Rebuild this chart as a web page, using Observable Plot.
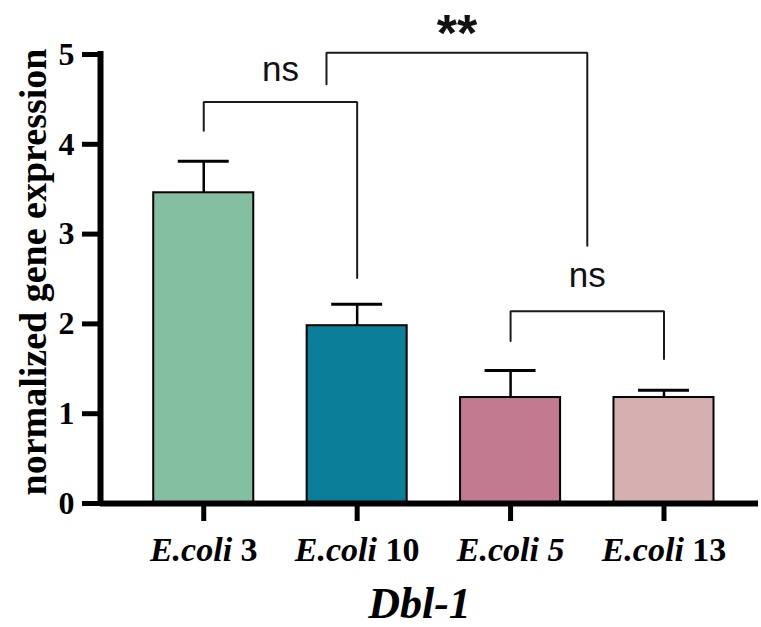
<!DOCTYPE html>
<html><head><meta charset="utf-8">
<script src="https://cdn.jsdelivr.net/npm/d3@7"></script>
<script src="https://cdn.jsdelivr.net/npm/@observablehq/plot@0.6"></script>
<style>
body{margin:0;background:#fff;}
#chart svg{display:block;}
</style></head><body><div id="chart"></div>
<script>
// ---- data ----
const strains = ["E.coli 3", "E.coli 10", "E.coli 5", "E.coli 13"];
const italicNumber = [false, false, true, false];
const positions = [1, 2, 3, 4];
const means = [3.46, 1.98, 1.18, 1.18];
const upperErr = [3.81, 2.22, 1.48, 1.26];
const barColors = ["#84BFA1", "#0B7F99", "#C17A90", "#D6B0B1"];
const yTicks = [0, 1, 2, 3, 4, 5];
const bracketLabels = ["ns", "**", "ns"];
const bracketFrom = [1, 1.8, 3];
const bracketTo = [2, 3.5, 4];
const bracketTop = [4.47, 5.02, 2.14];
const bracketLeftEnd = [4.15, 4.67, 1.81];
const bracketRightEnd = [2.51, 2.87, 1.61];
const bracketLabelY = [4.71, 5.04, 2.41];
const yTitle = "normalized gene expression";
const xTitle = "Dbl-1";

// ---- build tables ----
const bars = strains.map((s, i) => ({strain: s, pos: positions[i], mean: means[i], upper: upperErr[i]}));
const bracketPts = [];
bracketLabels.forEach((lab, i) => {
  bracketPts.push(
    {id: i, x: bracketFrom[i], y: bracketLeftEnd[i]},
    {id: i, x: bracketFrom[i], y: bracketTop[i]},
    {id: i, x: bracketTo[i], y: bracketTop[i]},
    {id: i, x: bracketTo[i], y: bracketRightEnd[i]}
  );
});
const bracketText = bracketLabels.map((lab, i) => ({label: lab, x: (bracketFrom[i] + bracketTo[i]) / 2, y: bracketLabelY[i]}));

const serif = "'Liberation Serif','Times New Roman',serif";
const sans = "'Liberation Sans',Arial,sans-serif";
const xDomain = [0.327, 4.616];
const barHalf = 0.326, capHalf = 0.166;

const plot = Plot.plot({
  width: 761, height: 627,
  marginLeft: 100, marginRight: 3, marginTop: 54, marginBottom: 124,
  style: {background: "#fff", color: "#000", fontFamily: serif, overflow: "visible"},
  x: {domain: xDomain},
  y: {domain: [0, 5]},
  color: {domain: strains, range: barColors},
  marks: [
    Plot.ruleX(bars, {x: "pos", y1: "mean", y2: "upper", stroke: "#000", strokeWidth: 2.5}),
    Plot.ruleY(bars, {y: "upper", x1: d => d.pos - capHalf, x2: d => d.pos + capHalf, stroke: "#000", strokeWidth: 3}),
    Plot.rectY(bars, {x1: d => d.pos - barHalf, x2: d => d.pos + barHalf, y1: 0, y2: "mean", fill: "strain", stroke: "#000", strokeWidth: 2}),
    Plot.line(bracketPts, {x: "x", y: "y", z: "id", stroke: "#1a1a1a", strokeWidth: 2, strokeLinejoin: "miter"}),
    Plot.text(bracketText, {filter: d => d.label === "ns", x: "x", y: "y", text: "label", fontFamily: sans, fontSize: 35, lineAnchor: "bottom", fill: "#111"}),
    Plot.text(bracketText, {filter: d => d.label !== "ns", x: "x", y: "y", text: "label", fontFamily: sans, fontSize: 52, fontWeight: "bold", lineAnchor: "bottom", fill: "#111"}),
    Plot.axisY({ticks: yTicks, tickSize: 18, tickPadding: 8, strokeWidth: 5, fontSize: 32, fontWeight: "bold", fontFamily: serif, label: null, tickFormat: d => String(d)}),
    Plot.axisX({ticks: positions, tickSize: 18, tickPadding: 15, strokeWidth: 5, fontSize: 34, fontWeight: "bold", fontFamily: serif, label: null, tickFormat: d => strains[d - 1]}),
    Plot.ruleX([xDomain[0]], {y1: 0, y2: 5, stroke: "#000", strokeWidth: 6, strokeLinecap: "square"}),
    Plot.ruleY([0], {x1: xDomain[0], x2: xDomain[1], stroke: "#000", strokeWidth: 6}),
    Plot.text([yTitle], {text: d => d, frameAnchor: "left", dx: -67, dy: -7, rotate: -90, fontSize: 38, fontWeight: "bold", fontFamily: serif, textAnchor: "middle", lineAnchor: "middle", fill: "#000"}),
    Plot.text([xTitle], {text: d => d, frameAnchor: "bottom", dx: -10, dy: 114, fontSize: 44, fontWeight: "bold", fontStyle: "italic", fontFamily: serif, lineAnchor: "bottom", fill: "#000"})
  ]
});
document.getElementById("chart").append(plot);

// mixed italic / upright tick labels
const NS = "http://www.w3.org/2000/svg";
const svg = plot.tagName.toLowerCase() === "svg" ? plot : plot.querySelector("svg");
svg.querySelectorAll('g[aria-label="x-axis tick label"] text').forEach(t => {
  const s = t.textContent;
  const idx = strains.indexOf(s);
  const parts = s.split(" ");
  t.textContent = "";
  const a = document.createElementNS(NS, "tspan");
  a.setAttribute("font-style", "italic");
  a.textContent = parts[0];
  const b = document.createElementNS(NS, "tspan");
  if (idx >= 0 && italicNumber[idx]) b.setAttribute("font-style", "italic");
  b.textContent = " " + parts.slice(1).join(" ");
  t.append(a, b);
});
</script></body></html>
